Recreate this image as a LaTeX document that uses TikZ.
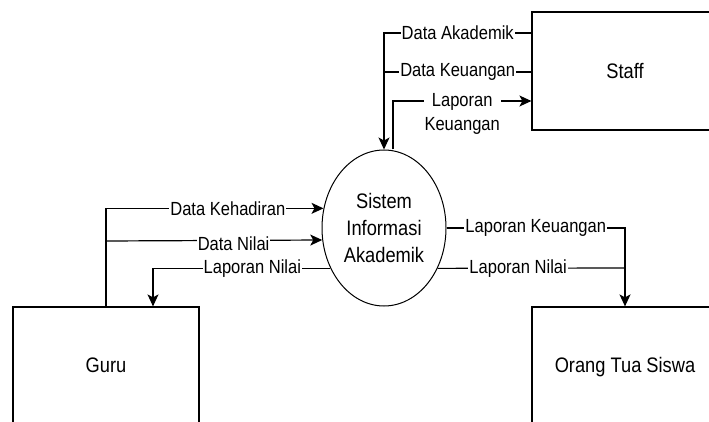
\documentclass[tikz,border=0pt]{standalone}
\usepackage{fontspec}
\setmainfont{Liberation Sans}[FakeStretch=0.87]
\usetikzlibrary{shapes.geometric,arrows.meta}

\tikzset{
  entity/.style={draw,line width=1.2pt,minimum width=186pt,inner sep=0pt,font=\fontsize{21}{24}\selectfont},
  proses/.style={draw,ellipse,line width=1pt,minimum width=124pt,minimum height=156pt,inner sep=0pt,align=center,font=\fontsize{21}{27}\selectfont},
  flow/.style={line width=1.2pt},
  arr/.style={flow,-{Stealth[length=12pt,width=11pt,inset=3pt]}},
  lbl/.style={fill=white,inner sep=1pt,font=\fontsize{19}{24}\selectfont,align=center}
}

\begin{document}
\begin{tikzpicture}[x=1pt,y=-1pt]

        \useasboundingbox (0,0) rectangle (709,422);
        \clip (0,0) rectangle (709,422);

        % entitas dan proses
        \node [entity,minimum height=118pt] (staff) at (625,71) {Staff};
        \node [entity,minimum height=120pt] (guru) at (106,367) {\raisebox{4pt}{Guru}};
        \node [entity,minimum height=120pt] (ortu) at (625,367) {\raisebox{4pt}{Orang Tua Siswa}};
        \node [proses] (sia) at (384,228) {Sistem\\Informasi\\Akademik};

        % staff ke sistem
        \draw [arr] (staff.west |- 0,33) -| node [lbl,pos=0.25] {Data Akademik} (sia.north);
        \draw [flow] (staff.west |- 0,72) -- node [lbl,pos=0.5] {Data Keuangan} (sia.north |- 0,72);

        % sistem ke staff
        \draw [arr] ([xshift=9pt]sia.north) |- node [lbl,pos=0.75,yshift=-13pt] {Laporan\\Keuangan} (staff.west |- 0,101);

        % guru ke sistem
        \draw [arr] (guru.north) |- node [lbl,pos=0.78] {Data Kehadiran} (sia.162);
        \draw [arr] (guru.north |- 0,241) -- node [lbl,pos=0.59,yshift=-3pt] {Data Nilai} (sia.191);

        % sistem ke guru
        \draw [arr] (sia.217) -| node [lbl,pos=0.22] {Laporan Nilai} ([xshift=47pt]guru.north);

        % sistem ke orang tua
        \draw [arr] (sia.east) -| node [lbl,pos=0.25] {Laporan Keuangan} (ortu.north);
        \draw [flow] (sia.323) -- node [lbl,pos=0.43] {Laporan Nilai} (ortu.north |- 0,268);

\end{tikzpicture}
\end{document}
